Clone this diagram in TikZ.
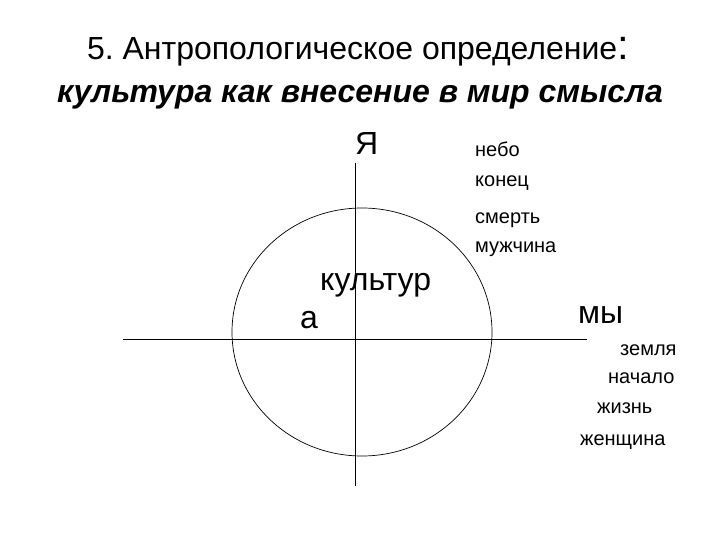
\documentclass[tikz,border=0pt]{standalone}
\usepackage{fontspec}
\setmainfont{Liberation Sans}
\frenchspacing
\begin{document}
\begin{tikzpicture}[x=1pt,y=-1pt,
  big/.style={inner sep=0pt, anchor=base west, font=\fontsize{32}{38}\selectfont},
  small/.style={inner sep=0pt, anchor=base west, font=\fontsize{20}{24}\selectfont},
  axis/.style={line width=1pt, black},
  ring/.style={line width=0.7pt, black}]
\useasboundingbox (0,0) rectangle (720,540);
% title
\node[inner sep=0pt, anchor=base, font=\fontsize{32}{38}\selectfont] (t1) at (358,60)
  {5. Антропологическое определение{\fontsize{42}{48}\selectfont:}};
\node[inner sep=0pt, anchor=base, font=\fontsize{32}{38}\selectfont\bfseries\itshape] (t2) at (360,103)
  {культура как внесение в мир смысла};
% axes
\coordinate (vtop) at (355,163);
\coordinate (vbot) at (355,486);
\coordinate (hl) at (123,339);
\coordinate (hr) at (587,339);
\draw[axis] (vtop) -- (vbot);
\draw[axis] (hl) -- (hr);
% circle
\coordinate (c) at (362,332);
\draw[ring] (c) ellipse [x radius=130pt, y radius=124pt];
% labels
\node[big] (ya) at (355,155) {Я};
\node[big] (kult) at (320,290) {культур};
\node[big] (a) at (300,328) {а};
\node[big] (my) at (578,323) {мы};
\node[small] (nebo) at (475,157) {небо};
\node[small] (konec) at (475,187) {конец};
\node[small] (smert) at (475,223) {смерть};
\node[small] (muzh) at (475,252) {мужчина};
\node[small] (zem) at (620,355) {земля};
\node[small] (nach) at (608,383) {начало};
\node[small] (zhizn) at (597,413) {жизнь};
\node[small] (zhen) at (580,445) {женщина};
\end{tikzpicture}
\end{document}
